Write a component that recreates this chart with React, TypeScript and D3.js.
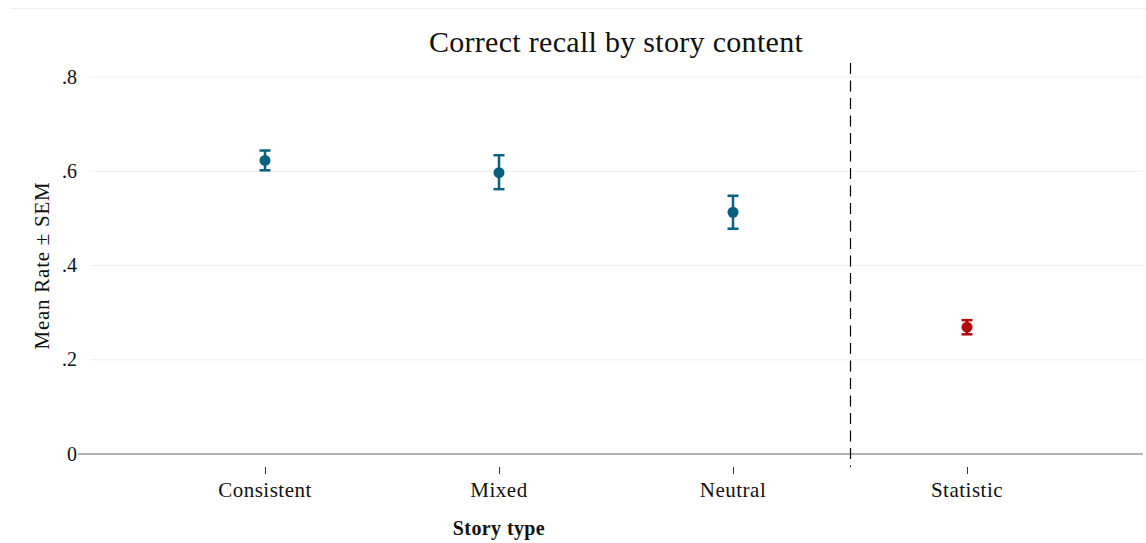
import React from "react";
import * as d3 from "d3";

const categories = ["Consistent", "Mixed", "Neutral", "Statistic"];
const means = [0.623, 0.597, 0.513, 0.269];
const lower = [0.602, 0.562, 0.478, 0.254];
const upper = [0.644, 0.634, 0.548, 0.284];
const groupColors = ["blue", "blue", "blue", "red"];
const yTicks = [0, 0.2, 0.4, 0.6, 0.8];
const yTickLabels = ["0", ".2", ".4", ".6", ".8"];

const W = 1146;
const H = 543;
const FONT = "'Liberation Serif', 'DejaVu Serif', serif";
const COLORS: Record<string, string> = { blue: "#0b5f7f", red: "#b00a0a" };

export default function App() {
  const x = d3.scalePoint<string>().domain(categories).range([265, 967]);
  const y = d3.scaleLinear().domain([0, 0.8]).range([454, 77]);
  const sepX = ((x("Neutral") as number) + (x("Statistic") as number)) / 2;

  return (
    <svg width={W} height={H} style={{ position: "absolute", left: 0, top: 0, background: "#fff" }}>
      <line x1={10} x2={W} y1={8.5} y2={8.5} stroke="#f0f0f0" strokeWidth={1} />
      <text x={616} y={52} textAnchor="middle" fontFamily={FONT} fontSize={30} letterSpacing={0.3} fill="#111">
        Correct recall by story content
      </text>
      {yTicks.map((t, i) =>
        t === 0 ? null : (
          <line key={"g" + i} x1={90} x2={1143} y1={y(t)} y2={y(t)} stroke="#efefef" strokeWidth={1.2} />
        )
      )}
      {yTicks.map((t, i) => (
        <text key={"yl" + i} x={77} y={y(t) + 6.5} textAnchor="end" fontFamily={FONT} fontSize={20} fill="#111">
          {yTickLabels[i]}
        </text>
      ))}
      <line x1={78} x2={1143} y1={y(0)} y2={y(0)} stroke="#999" strokeWidth={1.3} />
      <text
        transform={`translate(49, ${y(0.4)}) rotate(-90)`}
        textAnchor="middle"
        fontFamily={FONT}
        fontSize={21}
        letterSpacing={0.75}
        fill="#111"
      >
        Mean Rate ± SEM
      </text>
      <line x1={sepX + 0.5} x2={sepX + 0.5} y1={63} y2={467} stroke="#000" strokeWidth={1.2} strokeDasharray="11,6.5" />
      {categories.map((c) => (
        <g key={"xt" + c}>
          <line x1={(x(c) as number) + 0.5} x2={(x(c) as number) + 0.5} y1={467} y2={474} stroke="#333" strokeWidth={1} />
          <text x={x(c)} y={497} textAnchor="middle" fontFamily={FONT} fontSize={21} letterSpacing={0.5} fill="#111">
            {c}
          </text>
        </g>
      ))}
      <text x={499} y={535} textAnchor="middle" fontFamily={FONT} fontSize={20} letterSpacing={0.4} fontWeight="bold" fill="#111">
        Story type
      </text>
      {categories.map((c, i) => {
        const cx = x(c) as number;
        const col = COLORS[groupColors[i]];
        return (
          <g key={"p" + c}>
            <line x1={cx} x2={cx} y1={y(lower[i])} y2={y(upper[i])} stroke={col} strokeWidth={2.5} />
            <line x1={cx - 5.5} x2={cx + 5.5} y1={y(lower[i])} y2={y(lower[i])} stroke={col} strokeWidth={2.5} />
            <line x1={cx - 5.5} x2={cx + 5.5} y1={y(upper[i])} y2={y(upper[i])} stroke={col} strokeWidth={2.5} />
            <circle cx={cx} cy={y(means[i])} r={5.5} fill={col} />
          </g>
        );
      })}
    </svg>
  );
}
